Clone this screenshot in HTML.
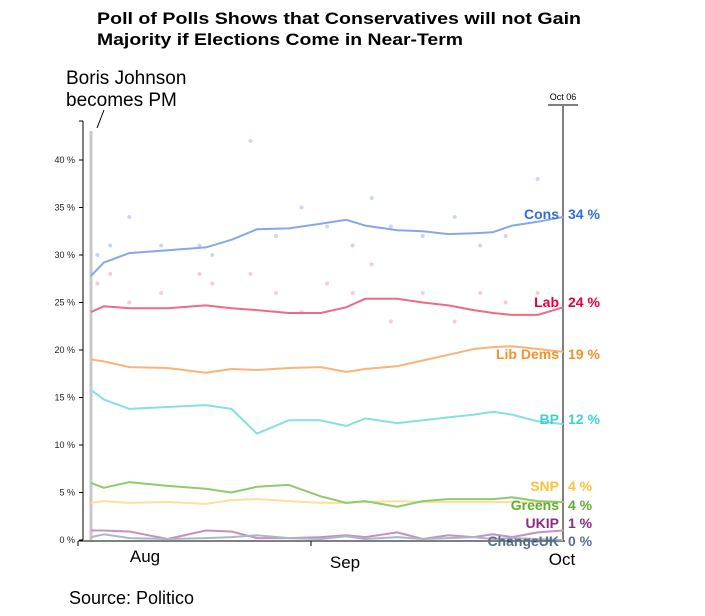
<!DOCTYPE html>
<html><head><meta charset="utf-8"><style>
body{margin:0;background:#fff;width:705px;height:611px;overflow:hidden;font-family:"Liberation Sans",sans-serif}
</style></head><body>
<svg id="chart" width="705" height="611" xmlns="http://www.w3.org/2000/svg" font-family="Liberation Sans, sans-serif">
<rect width="705" height="611" fill="#fff"/>
<text x="97" y="24" font-size="17" font-weight="bold" fill="#000" textLength="484" lengthAdjust="spacingAndGlyphs">Poll of Polls Shows that Conservatives will not Gain</text>
<text x="97" y="45" font-size="17" font-weight="bold" fill="#000" textLength="366" lengthAdjust="spacingAndGlyphs">Majority if Elections Come in Near-Term</text>
<text x="66" y="84" font-size="19" fill="#000">Boris Johnson</text>
<text x="66" y="106" font-size="19" fill="#000">becomes PM</text>
<line x1="104" y1="110" x2="97" y2="128" stroke="#000" stroke-width="1"/>
<line x1="91" y1="131" x2="91" y2="540" stroke="#c8c8c8" stroke-width="3"/>
<line x1="83" y1="121" x2="83" y2="540" stroke="#000" stroke-width="1"/>
<line x1="79" y1="121" x2="83" y2="121" stroke="#000"/>
<line x1="78" y1="541" x2="565" y2="541" stroke="#000" stroke-width="1"/>
<line x1="563" y1="106" x2="563" y2="541" stroke="#000" stroke-width="1"/>
<line x1="548" y1="105" x2="578" y2="105" stroke="#555" stroke-width="1.5"/>
<text x="563" y="100" font-size="9" text-anchor="middle" fill="#000">Oct 06</text>
<line x1="78" y1="541" x2="78" y2="546" stroke="#000"/>
<line x1="311" y1="541" x2="311" y2="546" stroke="#000"/>
<text x="145" y="562" font-size="17" text-anchor="middle">Aug</text>
<text x="345" y="568" font-size="17" text-anchor="middle">Sep</text>
<text x="562" y="565" font-size="17" text-anchor="middle">Oct</text>
<text x="69" y="604" font-size="18">Source: Politico</text>
<g id="yticks"></g><g id="dots"></g><g id="lines"></g><g id="labels"></g>
</svg>
<script>
const days=[0,2,6,12,18,22,26,31,36,40,43,48,52,56,60,63,66,70,74];
const cons=[27.8,29.2,30.2,30.5,30.8,31.6,32.7,32.8,33.3,33.7,33.1,32.6,32.5,32.2,32.3,32.4,33.1,33.5,34];
const lab=[24,24.6,24.4,24.4,24.7,24.4,24.2,23.9,23.9,24.5,25.4,25.4,25,24.7,24.2,23.9,23.7,23.7,24.5];
const libdem=[19,18.8,18.2,18.1,17.6,18,17.9,18.1,18.2,17.7,18,18.3,18.9,19.5,20.1,20.3,20.4,20.1,19.8];
const bp=[15.8,14.8,13.8,14,14.2,13.8,11.2,12.6,12.6,12,12.8,12.3,12.6,12.9,13.2,13.5,13.2,12.5,12.2];
const snp=[3.9,4.1,3.9,4,3.8,4.2,4.3,4.1,3.9,3.9,4,4.1,4,4,4,4,4,3.9,4];
const greens=[6,5.5,6.1,5.7,5.4,5,5.6,5.8,4.6,3.9,4.1,3.5,4.1,4.3,4.3,4.3,4.5,4.1,4];
const ukip=[1,1,0.9,0.1,1,0.9,0.2,0.2,0.3,0.5,0.3,0.8,0.1,0.5,0.3,0.6,0.3,0.8,1];
const changeuk=[0.3,0.6,0.2,0.1,0.2,0.3,0.5,0.2,0.1,0.4,0.1,0.3,0.1,0.2,0.3,0.1,0.2,0.1,0];
const yTicks=[0,5,10,15,20,25,30,35,40];
const pollDays=[1,3,6,11,17,19,25,29,33,37,41,44,47,52,57,61,65,70];
const pollCons=[30,31,34,31,31,30,42,32,35,33,31,36,33,32,34,31,32,38];
const pollLab=[27,28,25,26,28,27,28,26,24,27,26,29,23,26,23,26,25,26];
const x=d=>91+d*6.38, y=v=>540-v*9.5;
const NS="http://www.w3.org/2000/svg";
function mk(t,a,p){const e=document.createElementNS(NS,t);for(const k in a)e.setAttribute(k,a[k]);document.getElementById(p).appendChild(e);return e;}
yTicks.forEach(v=>{
  const l=mk('line',{x1:79,x2:83,y1:y(v),y2:y(v),stroke:'#000'},'yticks');
  
  
  const t=mk('text',{x:75,y:y(v)+3,'font-size':9,'text-anchor':'end',fill:'#222'},'yticks');t.textContent=v+' %';
  
  
});
pollDays.forEach((d,i)=>{
  const c=mk('circle',{cx:x(d),cy:y(pollCons[i]),r:2,fill:'#c8d8f2'},'dots');
  
  
  const c2=mk('circle',{cx:x(d),cy:y(pollLab[i]),r:2,fill:'#f7ccd4'},'dots');
  
  
});
const series=[
 ['cons',cons,'#86a8e8','#2f6fdb','Cons','34 %',219],
 ['lab',lab,'#ef6a82','#e4003b','Lab','24 %',307],
 ['libdem',libdem,'#fbb37a','#f7902a','Lib Dems','19 %',359],
 ['bp',bp,'#85e0e2','#3fcfd5','BP','12 %',424],
 ['snp',snp,'#fde09a','#fdc23a','SNP','4 %',491],
 ['greens',greens,'#8ccc6c','#5fb030','Greens','4 %',510],
 ['ukip',ukip,'#c890c0','#8b2c7e','UKIP','1 %',528],
 ['changeuk',changeuk,'#a8b8cc','#5a6f8c','ChangeUK','0 %',546]];
series.forEach(s=>{
  const pts=days.map((d,i)=>x(d).toFixed(1)+','+y(s[1][i]).toFixed(1)).join(' ');
  const p=mk('polyline',{points:pts,fill:'none',stroke:s[2],'stroke-width':2,'stroke-linejoin':'round'},'lines');
  
  
  const t=mk('text',{x:559,y:s[6],'font-size':14,'font-weight':'bold','text-anchor':'end',fill:s[3]},'labels');t.textContent=s[4];
  
  
  const v=mk('text',{x:568,y:s[6],'font-size':14,'font-weight':'bold',fill:s[3]},'labels');v.textContent=s[5];
  
  
});
</script>
</body></html>
